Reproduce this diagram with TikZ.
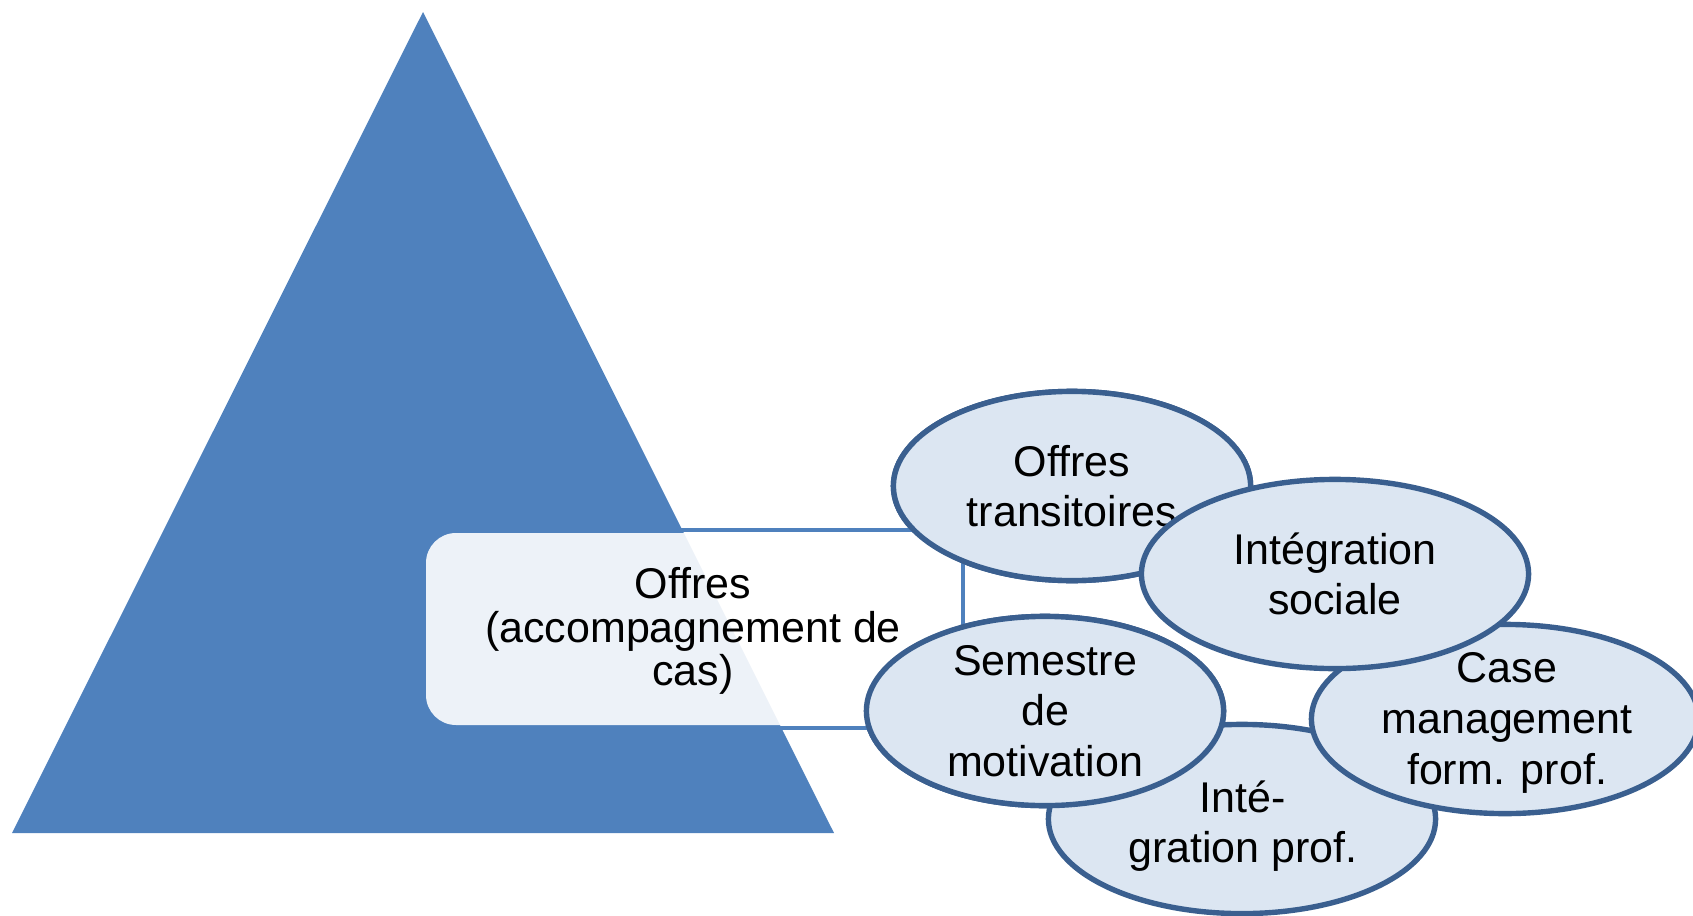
\documentclass[tikz,border=0pt]{standalone}
\usepackage{fontspec}
\setmainfont{Liberation Sans}
\usetikzlibrary{shapes.geometric}
\definecolor{triblue}{HTML}{4F81BD}
\definecolor{bubfill}{HTML}{DCE6F2}
\definecolor{bubline}{HTML}{3A5F8F}
\definecolor{connblue}{HTML}{4F81BD}
\begin{document}
\begin{tikzpicture}[x=0.5pt,y=-0.5pt,
  bubA/.style={ellipse, draw=bubline, line width=2.7pt, fill=bubfill, inner sep=0pt, minimum width=178.6pt, minimum height=94.6pt},
  bubB/.style={ellipse, draw=bubline, line width=2.7pt, fill=bubfill, inner sep=0pt, minimum width=193.6pt, minimum height=94.6pt},
  txt/.style={align=center, font=\fontsize{21.5}{25.3}\selectfont, inner sep=0pt},
  boxtxt/.style={align=center, font=\fontsize{21.5}{21.8}\selectfont, inner sep=0pt},
  conn/.style={draw=connblue, line width=2.1pt}]
\useasboundingbox (0,0) rectangle (1693,916);
% named points
\coordinate (apex) at (423,12);
\coordinate (bl) at (12,833);
\coordinate (br) at (834,833);
\coordinate (ctop) at (963,530);
\coordinate (cbot) at (963,728);
% geometry of nodes (positions only)
\path (693,629) node[rectangle, minimum width=267pt, minimum height=96pt, inner sep=0pt] (boxpos) {};
\path (1072,486) node[bubA] (ot) {};
\path (1045,711) node[bubA] (sm) {};
% connectors (under triangle)
\draw[conn] (boxpos.west |- ctop) -- (ctop -| ot.center);
\draw[conn] (boxpos.west |- cbot) -- (cbot -| sm.center);
\draw[conn] (ctop) -- (cbot);
% triangle
\fill[triblue] (apex) -- (bl) -- (br) -- cycle;
% box
\node[rectangle, rounded corners=15pt, fill=white, fill opacity=0.9, minimum width=267pt, minimum height=96pt, inner sep=0pt] (box) at (boxpos) {};
\node[boxtxt] (boxt) at (693,631) {Offres\\(accompagnement de\\cas)};
% bubbles
\node[bubA] (ot2) at (ot) {};
\node[txt] (ott) at (ot) {Offres\\transitoires};
\node[bubB] (ip) at (1242,819) {};
\node[txt] (ipt) at (1243,826) {Inté-\\gration prof.};
\node[bubB] (cm) at (1505,719) {};
\node[txt] (cmt) at (1507,723) {Case\\management\\form. prof.};
\node[bubB] (is) at (1335,574) {};
\node[txt] (ist) at (is) {Intégration\\sociale};
\node[bubA] (sm2) at (sm) {};
\node[txt] (smt) at (sm) {Semestre\\de\\motivation};
\end{tikzpicture}
\end{document}
